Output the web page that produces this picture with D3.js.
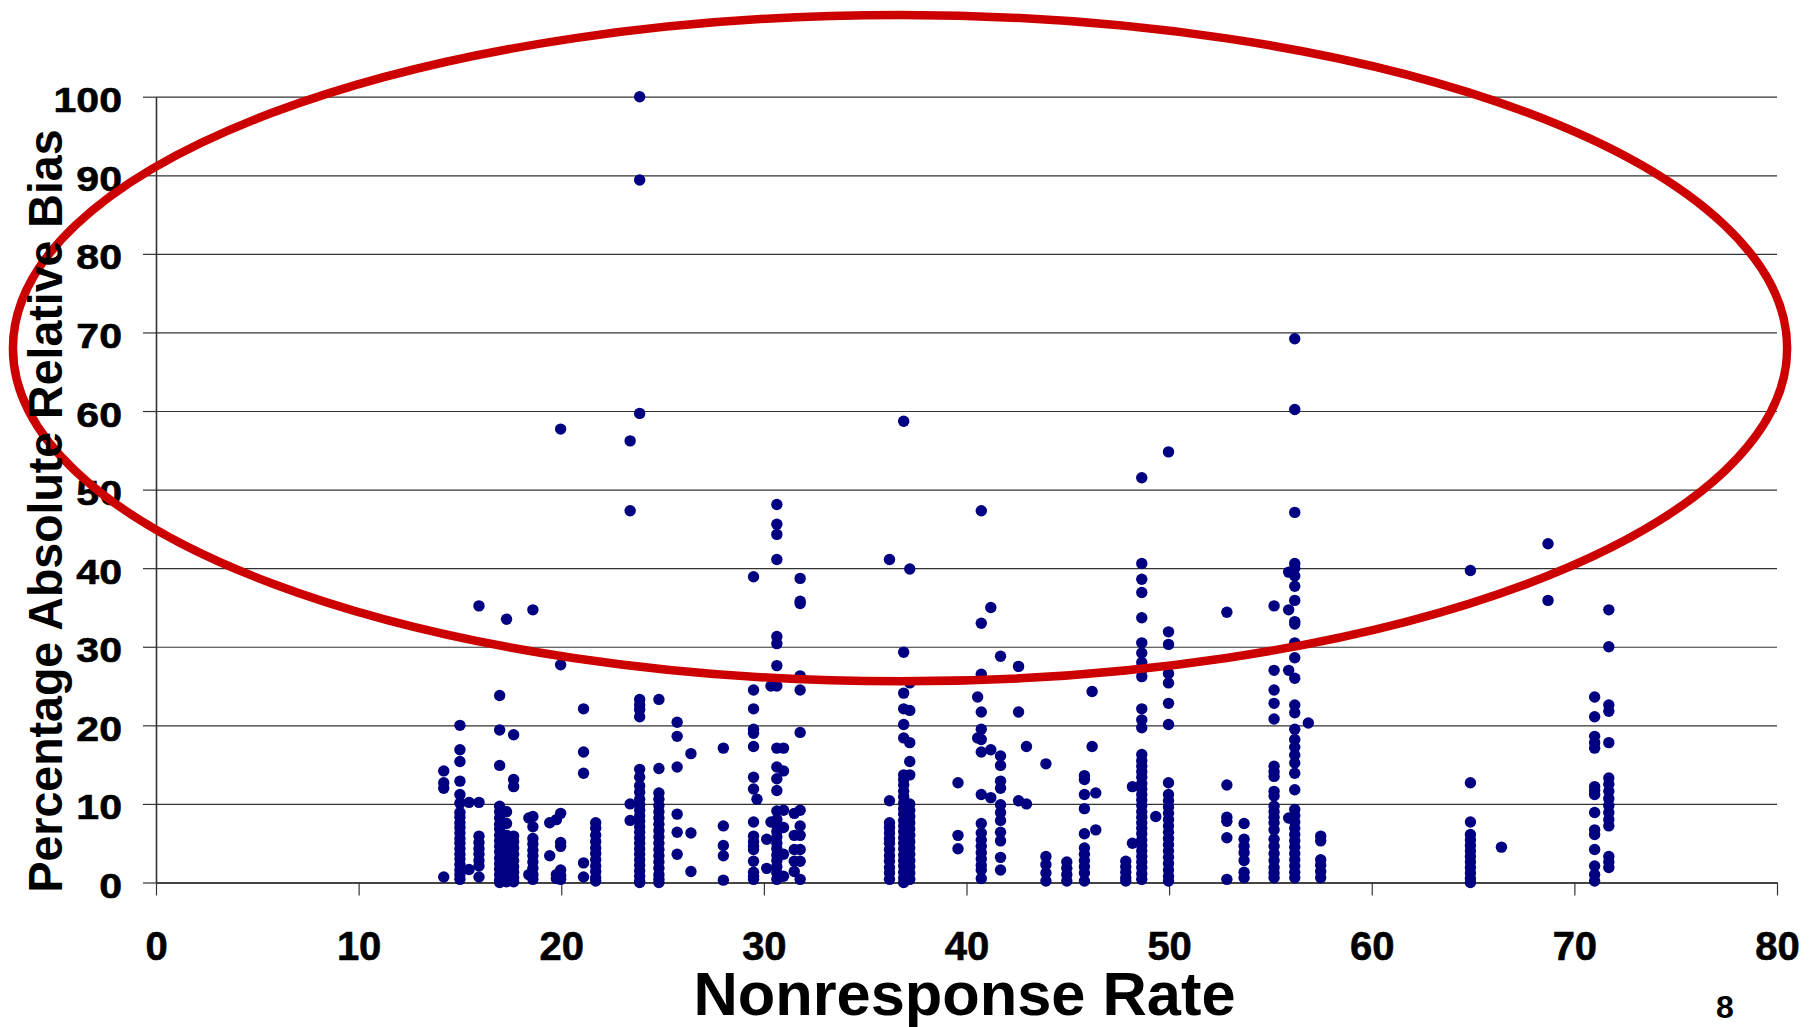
<!DOCTYPE html>
<html>
<head>
<meta charset="utf-8">
<script src="https://cdn.jsdelivr.net/npm/d3@7"></script>
<style>
  body { margin: 0; background: #fff; }
  svg { display: block; }
</style>
</head>
<body>
<div id="chart"></div>
<script>
// nonresponse rate of each column of dots
const rateCols = [14.2, 15.0, 15.45, 15.94, 16.96, 17.3, 17.65, 18.4, 18.6, 19.43, 19.76, 19.97,
  21.1, 21.7, 23.4, 23.87, 24.82, 25.72, 26.4, 28.0, 29.49, 29.66, 30.14, 30.35, 30.64,
  30.97, 31.5, 31.79, 36.2, 36.9, 37.2, 39.58, 40.55, 40.73, 41.2, 41.68, 42.57, 42.96,
  43.92, 44.95, 45.82, 46.2, 46.38, 47.86, 48.19, 48.65, 49.34, 49.97, 52.85, 53.7,
  55.18, 55.9, 56.2, 56.87, 57.48, 64.87, 66.4, 68.7, 71.0, 71.7];

// percentage absolute relative bias values in each column
const biasCols = [
  [14.2, 12.7, 12.0, 0.7],
  [20.0, 16.9, 15.4, 12.9, 11.2, 10.1, 8.9, 8.3, 7.6, 7.0, 6.3, 5.6, 5.0, 4.3, 3.6, 3.0, 2.3, 1.6, 1.0, 0.4],
  [10.2, 1.65],
  [35.2, 10.2, 5.9, 5.1, 4.3, 3.6, 2.8, 2.1, 0.7],
  [23.8, 19.4, 14.9, 9.7, 9.0, 8.2, 7.4, 6.8, 6.0, 5.3, 4.6, 3.9, 3.1, 2.4, 1.7, 1.0, 0.3, 0.0],
  [33.5, 9.0, 7.5, 6.0, 5.0, 4.0, 3.2, 2.5, 1.8, 1.1, 0.5, 0.1],
  [18.8, 13.1, 12.2, 5.9, 5.2, 4.4, 3.6, 2.8, 2.0, 1.3, 0.6, 0.1],
  [8.2, 1.0],
  [34.7, 8.4, 7.1, 5.6, 4.9, 4.1, 3.4, 2.6, 1.8, 1.0, 0.4],
  [7.6, 3.4],
  [8.0, 1.0, 0.5],
  [57.7, 27.7, 8.8, 5.1, 4.6, 1.6, 0.9, 0.4],
  [22.1, 16.6, 13.9, 2.5, 0.7],
  [7.6, 6.9, 6.0, 5.2, 4.4, 3.7, 2.9, 2.1, 1.4, 0.6, 0.2],
  [56.2, 47.3, 10.0, 7.9],
  [100, 89.4, 59.7, 23.3, 22.6, 22.0, 21.1, 14.4, 13.4, 12.3, 11.5, 10.6, 9.9, 9.2, 8.5, 7.8, 7.1, 6.4, 5.7, 5.0, 4.3, 3.6, 2.9, 2.2, 1.5, 0.8, 0.2, 0.0],
  [23.3, 14.5, 11.4, 10.6, 9.8, 9.0, 8.2, 7.4, 6.6, 5.8, 5.0, 4.2, 3.4, 2.6, 1.8, 1.0, 0.4, 0.0],
  [20.4, 18.6, 14.7, 8.7, 6.4, 3.6],
  [16.4, 6.3, 1.4],
  [17.1, 7.2, 4.7, 3.4, 0.3],
  [38.9, 24.5, 22.1, 19.5, 19.0, 17.3, 13.4, 11.9, 7.7, 5.9, 5.2, 4.6, 4.2, 2.7, 1.3, 0.8, 0.4],
  [10.6],
  [5.5, 1.8],
  [25.0, 7.7],
  [48.1, 45.6, 44.3, 41.1, 31.3, 30.4, 27.6, 25.0, 17.1, 14.7, 13.2, 11.7, 9.1, 8.0, 7.3, 6.5, 5.8, 5.0, 4.3, 3.5, 2.8, 2.0, 1.2, 0.4],
  [17.1, 14.2, 9.2, 7.0, 3.6, 0.8],
  [8.8, 6.0, 4.2, 2.7, 1.4],
  [38.7, 35.8, 35.5, 26.3, 24.5, 19.1, 9.2, 7.2, 6.0, 4.2, 2.7, 0.4],
  [41.1, 10.4, 7.6, 7.0, 6.3, 5.6, 5.0, 4.2, 3.4, 2.7, 1.9, 1.2, 0.4],
  [58.7, 29.3, 24.1, 22.1, 20.1, 18.4, 13.7, 13.1, 12.4, 11.6, 10.9, 10.1, 9.4, 8.7, 7.9, 7.2, 6.5, 5.7, 5.0, 4.3, 3.5, 2.8, 2.1, 1.3, 0.6, 0.0],
  [39.9, 25.4, 21.9, 17.8, 15.4, 13.7, 10.0, 9.2, 8.4, 7.6, 6.8, 6.0, 5.2, 4.4, 3.6, 2.8, 2.0, 1.2, 0.4],
  [12.7, 6.0, 4.3],
  [23.6, 18.4],
  [47.3, 33.0, 26.5, 21.7, 19.5, 18.2, 16.6, 11.2, 7.5, 6.3, 5.4, 4.6, 3.8, 3.0, 2.2, 1.6, 0.5],
  [35.0, 16.9, 10.8],
  [28.8, 16.1, 14.9, 12.9, 12.0, 9.9, 8.9, 7.9, 6.4, 5.3, 3.2, 1.6],
  [27.5, 21.7, 10.4],
  [17.3, 10.0],
  [15.1, 3.3, 2.3, 1.2, 0.2],
  [2.6, 1.8, 1.0, 0.2],
  [13.6, 13.1, 11.2, 9.4, 6.2, 4.4, 3.6, 2.8, 2.0, 1.2, 0.2],
  [24.3, 17.3],
  [11.4, 6.7],
  [2.7, 2.0, 1.3, 0.6, 0.2],
  [12.2, 5.0],
  [51.5, 40.6, 38.6, 36.9, 33.7, 30.5, 29.2, 28.0, 27.0, 26.2, 22.1, 20.7, 19.7, 16.3, 15.5, 14.8, 14.1, 13.4, 12.6, 11.9, 11.2, 10.5, 9.8, 9.0, 8.3, 7.6, 6.9, 6.2, 5.4, 4.7, 4.0, 3.3, 2.6, 1.9, 1.1, 0.4],
  [8.4],
  [54.8, 31.9, 30.3, 26.6, 25.4, 22.8, 20.1, 12.7, 11.2, 10.4, 9.6, 8.8, 8.0, 7.2, 6.4, 5.6, 4.8, 4.0, 3.2, 2.4, 1.6, 0.8, 0.2],
  [34.4, 12.4, 8.3, 7.8, 5.7, 0.4],
  [7.5, 5.5, 4.6, 3.8, 2.8, 1.3, 0.6],
  [35.2, 27.0, 24.5, 22.8, 20.8, 14.8, 14.1, 13.5, 11.6, 11.0, 9.7, 9.0, 8.3, 7.6, 6.7, 5.5, 4.6, 3.7, 2.8, 1.9, 1.2, 0.6],
  [39.5, 34.7, 27.0, 8.2],
  [69.2, 60.2, 47.1, 40.6, 40.0, 39.0, 37.7, 35.9, 33.2, 32.9, 30.5, 28.6, 26.0, 22.6, 21.6, 19.5, 18.2, 17.2, 16.2, 15.2, 13.9, 11.8, 9.3, 8.5, 7.7, 6.9, 6.1, 5.3, 4.5, 3.7, 2.9, 2.1, 1.3, 0.6],
  [20.3],
  [5.9, 5.3, 2.9, 2.2, 1.4, 0.6],
  [39.7, 12.7, 7.7, 6.1, 5.4, 4.7, 4.0, 3.3, 2.6, 1.9, 1.2, 0.5, 0.0],
  [4.5],
  [43.1, 35.9],
  [23.6, 21.1, 18.6, 17.8, 17.1, 12.2, 11.7, 11.2, 8.9, 6.7, 6.1, 4.2, 2.1, 1.0, 0.2],
  [34.7, 30.0, 22.6, 21.8, 17.8, 13.3, 12.5, 11.6, 10.7, 9.8, 8.9, 8.0, 7.2, 3.3, 2.6, 1.9]
];

const xTicks = [0, 10, 20, 30, 40, 50, 60, 70, 80];
const yTicks = [0, 10, 20, 30, 40, 50, 60, 70, 80, 90, 100];

// highlight ellipse, in data units: centre rate, centre bias, half widths
const ring = { rate: 36.72, bias: 68.0, rx: 43.78, ry: 42.4 };

const W = 1809, H = 1027;
const font = "'Liberation Sans', Arial, sans-serif";

const svg = d3.select("#chart")
  .append("svg")
  .attr("width", W)
  .attr("height", H);

svg.append("rect").attr("width", W).attr("height", H).attr("fill", "#fff");

const x = d3.scaleLinear().domain([0, 80]).range([156, 1777]);
const y = d3.scaleLinear().domain([0, 100]).range([882.5, 96.7]);

// horizontal grid lines
svg.append("g")
  .attr("transform", "translate(" + x(0) + ",0)")
  .call(d3.axisLeft(y).tickValues(yTicks).tickSize(-(x(80) - x(0))).tickFormat(""))
  .call(g => g.select(".domain").remove())
  .selectAll(".tick line")
  .attr("stroke", "#333")
  .attr("stroke-width", 1.2);

// y axis with ticks
const yAxis = svg.append("g")
  .attr("transform", "translate(" + x(0) + ",0)")
  .call(d3.axisLeft(y).tickValues(yTicks).tickSize(13).tickSizeOuter(0).tickPadding(0));
yAxis.select(".domain").attr("stroke", "#333").attr("stroke-width", 1.6);
yAxis.selectAll(".tick line").attr("stroke", "#333").attr("stroke-width", 1.2);
yAxis.selectAll(".tick text")
  .attr("x", 0)
  .attr("dy", null)
  .attr("transform", "translate(-34,15) scale(1.14,1)")
  .attr("fill", "#000")
  .attr("stroke", "#000")
  .attr("stroke-width", 0.6)
  .style("font-family", font)
  .style("font-weight", "bold")
  .style("font-size", "36px");

// x axis with ticks
const xAxis = svg.append("g")
  .attr("transform", "translate(0," + y(0) + ")")
  .call(d3.axisBottom(x).tickValues(xTicks).tickSize(13).tickSizeOuter(0).tickPadding(36));
xAxis.select(".domain").attr("stroke", "#444").attr("stroke-width", 2.2);
xAxis.selectAll(".tick line").attr("stroke", "#333").attr("stroke-width", 1.2);
xAxis.selectAll(".tick text")
  .attr("fill", "#000")
  .attr("stroke", "#000")
  .attr("stroke-width", 0.6)
  .style("font-family", font)
  .style("font-weight", "bold")
  .style("font-size", "40px");

// dots
const points = rateCols.flatMap((r, i) => biasCols[i].map(b => ({ rate: r, bias: b })));
svg.append("g")
  .selectAll("circle")
  .data(points)
  .enter()
  .append("circle")
  .attr("cx", d => x(d.rate))
  .attr("cy", d => y(d.bias))
  .attr("r", 5.7)
  .attr("fill", "#000080");

// red highlight ring
svg.append("ellipse")
  .attr("cx", x(ring.rate))
  .attr("cy", y(ring.bias))
  .attr("rx", x(ring.rx) - x(0))
  .attr("ry", y(0) - y(ring.ry))
  .attr("fill", "none")
  .attr("stroke", "#cc0000")
  .attr("stroke-width", 8.5);

// axis titles
svg.append("text")
  .attr("transform", "translate(62,511) rotate(-90)")
  .attr("text-anchor", "middle")
  .attr("textLength", 763)
  .attr("lengthAdjust", "spacingAndGlyphs")
  .style("font-family", font)
  .style("font-weight", "bold")
  .style("font-size", "49px")
  .text("Percentage Absolute Relative Bias");

svg.append("text")
  .attr("x", (x(0) + x(80)) / 2 - 2)
  .attr("y", 1015)
  .attr("text-anchor", "middle")
  .attr("textLength", 542)
  .attr("lengthAdjust", "spacingAndGlyphs")
  .style("font-family", font)
  .style("font-weight", "bold")
  .style("font-size", "61px")
  .text("Nonresponse Rate");

// slide number
svg.append("text")
  .attr("x", 1725)
  .attr("y", 1018)
  .attr("text-anchor", "middle")
  .style("font-family", font)
  .style("font-weight", "bold")
  .style("font-size", "32px")
  .text("8");
</script>
</body>
</html>
